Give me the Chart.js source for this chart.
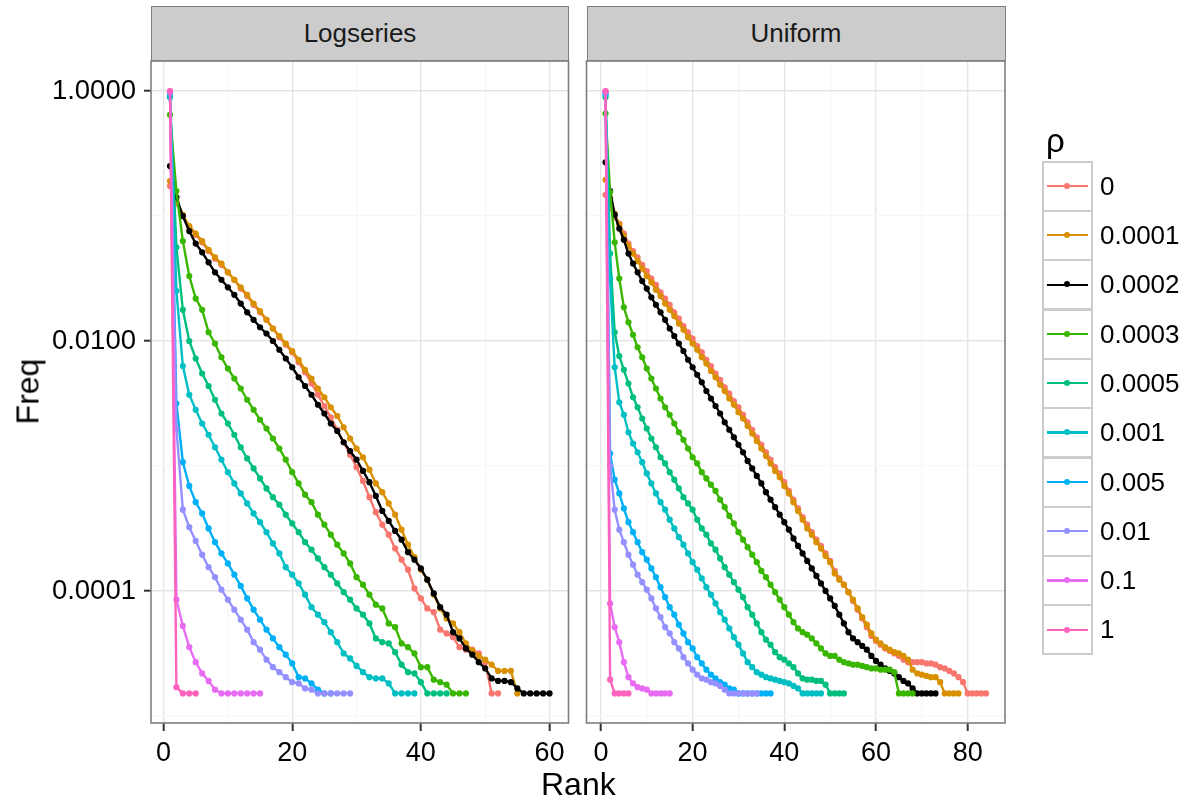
<!DOCTYPE html>
<html>
<head>
<meta charset="utf-8">
<script src="https://cdn.jsdelivr.net/npm/chart.js@4.4.1/dist/chart.umd.min.js"></script>
<style>
    body { margin: 0; background: #fff; font-family: "Liberation Sans", Arial, Helvetica, sans-serif; }
    #wrap { position: relative; width: 1189px; height: 805px; overflow: hidden; }
    #wrap canvas { position: absolute; left: 0; top: 0; }
    .strip { position: absolute; top: 6px; height: 55px; box-sizing: border-box; background: #ccc;
             border: 1.6px solid #7f7f7f; font-size: 26px; line-height: 52px; text-align: center; color: #1a1a1a; }
    .axis-title { position: absolute; font-size: 32px; color: #000; white-space: nowrap; }
    #legend { position: absolute; left: 1042px; top: 138px; }
    .key { position: absolute; left: 0; width: 51px; height: 51px; box-sizing: border-box; border: 2.4px solid #ccc; background: #fff; }
    .key .ln { position: absolute; left: 3px; right: 3px; top: 22.3px; height: 2.2px; }
    .key .pt { position: absolute; left: 20.2px; top: 20.2px; width: 6px; height: 6px; border-radius: 50%; }
    .key-label { position: absolute; left: 58px; font-size: 26px; color: #000; white-space: nowrap; }
    .legend-title { position: absolute; left: 4px; top: -16px; font-size: 33px; z-index: 2; }
</style>
</head>
<body>
<div id="wrap">
    <canvas id="chart-logseries" width="1189" height="805"></canvas>
    <canvas id="chart-uniform" width="1189" height="805"></canvas>
    <div class="strip" id="strip-0" style="left:151px;width:418px;"></div>
    <div class="strip" id="strip-1" style="left:586.5px;width:419px;"></div>
    <div class="axis-title" style="left:541px;top:766px;">Rank</div>
    <div class="axis-title" style="left:-6px;top:373px;transform:rotate(-90deg);transform-origin:center;width:68px;text-align:center;">Freq</div>
    <div id="legend"></div>
</div>
<script>
// facet titles and legend entries
const panelTitles = ['Logseries', 'Uniform'];
const legendTitle = 'ρ';
const rhoLabels = ['0', '0.0001', '0.0002', '0.0003', '0.0005', '0.001', '0.005', '0.01', '0.1', '1'];
const rhoColors = ['#F8766D', '#D89000', '#000000', '#39B600', '#00BF7D', '#00BFC4', '#00B0F6', '#9590FF', '#E76BF3', '#FF62BC'];

// tick labels
const yTickValues = [1, 0.01, 0.0001];
const yTickLabels = ['1.0000', '0.0100', '0.0001'];
const xTicksLogseries = [0, 20, 40, 60];
const xTicksUniform = [0, 20, 40, 60, 80];

// log10(Freq) by rank (rank 1, 2, 3, ...) -- Logseries panel
const lsRho0 = [-0.76, -0.90, -1.00, -1.09, -1.15, -1.21, -1.28, -1.34, -1.39, -1.45, -1.51, -1.58, -1.64, -1.71, -1.77, -1.83, -1.90, -1.97, -2.03, -2.09,
    -2.17, -2.25, -2.34, -2.43, -2.52, -2.61, -2.71, -2.81, -2.91, -3.01, -3.12, -3.25, -3.37, -3.47, -3.55, -3.66, -3.75, -3.83, -3.98, -4.06,
    -4.14, -4.17, -4.31, -4.34, -4.37, -4.45, -4.47, -4.47, -4.50, -4.57, -4.82, -4.82];
const lsRho00001 = [-0.72, -0.88, -0.99, -1.08, -1.14, -1.20, -1.27, -1.33, -1.38, -1.45, -1.51, -1.57, -1.63, -1.70, -1.76, -1.83, -1.90, -1.96, -2.02, -2.08,
    -2.15, -2.23, -2.30, -2.38, -2.45, -2.53, -2.60, -2.69, -2.78, -2.86, -2.93, -3.03, -3.14, -3.21, -3.30, -3.39, -3.51, -3.63, -3.73, -3.83,
    -3.91, -4.03, -4.14, -4.22, -4.26, -4.33, -4.42, -4.48, -4.52, -4.55, -4.59, -4.64, -4.64, -4.64, -4.82];
const lsRho00002 = [-0.60, -0.85, -1.00, -1.12, -1.22, -1.29, -1.37, -1.45, -1.51, -1.57, -1.63, -1.70, -1.77, -1.83, -1.89, -1.94, -2.00, -2.07, -2.14, -2.21,
    -2.29, -2.36, -2.43, -2.51, -2.58, -2.66, -2.72, -2.81, -2.88, -2.95, -3.04, -3.13, -3.24, -3.36, -3.44, -3.52, -3.59, -3.69, -3.75, -3.82,
    -3.91, -4.02, -4.13, -4.19, -4.33, -4.38, -4.46, -4.51, -4.57, -4.62, -4.70, -4.72, -4.72, -4.73, -4.78, -4.82, -4.82, -4.82, -4.82, -4.82];
const lsRho00003 = [-0.19, -0.80, -1.20, -1.48, -1.66, -1.75, -1.93, -2.02, -2.13, -2.22, -2.30, -2.38, -2.47, -2.55, -2.63, -2.70, -2.78, -2.86, -2.95, -3.05,
    -3.14, -3.23, -3.29, -3.39, -3.47, -3.55, -3.63, -3.70, -3.78, -3.89, -3.95, -4.03, -4.11, -4.14, -4.26, -4.29, -4.42, -4.45, -4.50, -4.61,
    -4.61, -4.71, -4.73, -4.75, -4.82, -4.82, -4.82];
const lsRho00005 = [-0.05, -1.25, -1.75, -2.00, -2.14, -2.26, -2.36, -2.47, -2.58, -2.66, -2.75, -2.85, -2.94, -3.02, -3.10, -3.18, -3.25, -3.31, -3.39, -3.46,
    -3.53, -3.61, -3.67, -3.74, -3.81, -3.87, -3.94, -4.01, -4.07, -4.14, -4.19, -4.26, -4.38, -4.41, -4.42, -4.49, -4.59, -4.65, -4.66, -4.73,
    -4.82, -4.82, -4.82, -4.82];
const lsRho0001 = [-0.045, -1.60, -2.20, -2.43, -2.55, -2.66, -2.75, -2.85, -2.95, -3.05, -3.14, -3.22, -3.30, -3.38, -3.45, -3.53, -3.62, -3.70, -3.81, -3.87,
    -3.94, -4.03, -4.13, -4.19, -4.25, -4.33, -4.41, -4.50, -4.54, -4.60, -4.65, -4.69, -4.70, -4.70, -4.74, -4.82, -4.82, -4.82, -4.82];
const lsRho0005 = [-0.02, -2.50, -2.97, -3.16, -3.29, -3.38, -3.50, -3.61, -3.70, -3.78, -3.87, -3.96, -4.06, -4.15, -4.23, -4.31, -4.38, -4.45, -4.51, -4.58,
    -4.69, -4.70, -4.74, -4.79, -4.82, -4.82];
const lsRho001 = [-0.01, -2.70, -3.35, -3.49, -3.60, -3.71, -3.81, -3.89, -3.99, -4.07, -4.15, -4.23, -4.31, -4.41, -4.47, -4.55, -4.61, -4.65, -4.69, -4.73,
    -4.74, -4.78, -4.79, -4.82, -4.82, -4.82, -4.82, -4.82, -4.82];
const lsRho01 = [-0.003, -4.07, -4.28, -4.45, -4.57, -4.66, -4.72, -4.79, -4.82, -4.82, -4.82, -4.82, -4.82, -4.82, -4.82];
const lsRho1 = [0, -4.77, -4.82, -4.82, -4.82];

// log10(Freq) by rank -- Uniform panel
const unRho0 = [-0.83, -0.93, -1.01, -1.06, -1.14, -1.22, -1.28, -1.33, -1.39, -1.44, -1.50, -1.55, -1.61, -1.66, -1.71, -1.77, -1.82, -1.88, -1.93, -1.98,
    -2.04, -2.09, -2.15, -2.20, -2.26, -2.31, -2.37, -2.42, -2.48, -2.53, -2.59, -2.65, -2.71, -2.77, -2.83, -2.89, -2.95, -3.01, -3.06, -3.13,
    -3.20, -3.27, -3.34, -3.41, -3.47, -3.53, -3.59, -3.64, -3.70, -3.76, -3.84, -3.90, -3.95, -4.01, -4.08, -4.15, -4.22, -4.29, -4.36, -4.40,
    -4.43, -4.46, -4.48, -4.50, -4.52, -4.55, -4.57, -4.57, -4.57, -4.57, -4.58, -4.58, -4.59, -4.61, -4.62, -4.64, -4.66, -4.69, -4.73, -4.82,
    -4.82, -4.82, -4.82, -4.82];
const unRho00001 = [-0.71, -0.86, -0.98, -1.07, -1.16, -1.24, -1.30, -1.36, -1.42, -1.48, -1.53, -1.59, -1.64, -1.70, -1.75, -1.80, -1.86, -1.91, -1.97, -2.02,
    -2.07, -2.13, -2.18, -2.24, -2.29, -2.35, -2.40, -2.46, -2.51, -2.57, -2.62, -2.68, -2.74, -2.80, -2.86, -2.92, -2.98, -3.04, -3.09, -3.16,
    -3.22, -3.29, -3.36, -3.43, -3.50, -3.55, -3.61, -3.66, -3.72, -3.77, -3.86, -3.91, -3.95, -4.01, -4.07, -4.14, -4.21, -4.27, -4.34, -4.39,
    -4.42, -4.45, -4.47, -4.49, -4.50, -4.52, -4.55, -4.63, -4.66, -4.67, -4.68, -4.69, -4.69, -4.73, -4.82, -4.82, -4.82, -4.82];
const unRho00002 = [-0.57, -0.80, -0.99, -1.10, -1.19, -1.30, -1.38, -1.45, -1.52, -1.58, -1.65, -1.71, -1.77, -1.83, -1.90, -1.96, -2.02, -2.08, -2.15, -2.21,
    -2.27, -2.33, -2.40, -2.46, -2.52, -2.58, -2.65, -2.71, -2.77, -2.83, -2.89, -2.96, -3.02, -3.08, -3.14, -3.21, -3.27, -3.33, -3.39, -3.45,
    -3.51, -3.58, -3.64, -3.70, -3.76, -3.82, -3.88, -3.94, -4.00, -4.06, -4.12, -4.19, -4.26, -4.33, -4.38, -4.41, -4.44, -4.47, -4.52, -4.56,
    -4.59, -4.62, -4.64, -4.66, -4.69, -4.72, -4.74, -4.78, -4.82, -4.82, -4.82, -4.82, -4.82];
const unRho00003 = [-0.18, -0.81, -1.21, -1.50, -1.73, -1.85, -1.95, -2.05, -2.13, -2.22, -2.30, -2.38, -2.46, -2.53, -2.59, -2.66, -2.73, -2.79, -2.86, -2.93,
    -2.98, -3.05, -3.10, -3.15, -3.20, -3.27, -3.33, -3.40, -3.46, -3.53, -3.59, -3.65, -3.71, -3.77, -3.84, -3.89, -3.95, -4.01, -4.07, -4.13,
    -4.19, -4.25, -4.30, -4.33, -4.35, -4.38, -4.42, -4.46, -4.50, -4.52, -4.52, -4.55, -4.57, -4.58, -4.59, -4.59, -4.60, -4.61, -4.62, -4.62,
    -4.63, -4.63, -4.63, -4.65, -4.82, -4.82, -4.82, -4.82];
const unRho00005 = [-0.05, -1.30, -1.93, -2.12, -2.23, -2.34, -2.45, -2.53, -2.62, -2.70, -2.78, -2.85, -2.93, -2.98, -3.05, -3.11, -3.18, -3.25, -3.30, -3.35,
    -3.43, -3.50, -3.55, -3.62, -3.67, -3.74, -3.81, -3.87, -3.93, -3.99, -4.05, -4.13, -4.19, -4.26, -4.33, -4.39, -4.43, -4.49, -4.53, -4.55,
    -4.58, -4.61, -4.66, -4.70, -4.71, -4.71, -4.72, -4.72, -4.75, -4.82, -4.82, -4.82, -4.82];
const unRho0001 = [-0.03, -1.50, -2.21, -2.49, -2.59, -2.73, -2.82, -2.89, -2.97, -3.06, -3.14, -3.22, -3.29, -3.35, -3.43, -3.50, -3.57, -3.63, -3.70, -3.77,
    -3.83, -3.90, -3.97, -4.03, -4.10, -4.17, -4.23, -4.30, -4.37, -4.43, -4.50, -4.57, -4.61, -4.65, -4.67, -4.69, -4.70, -4.71, -4.72, -4.73,
    -4.74, -4.76, -4.78, -4.82, -4.82, -4.82, -4.82, -4.82];
const unRho0005 = [-0.02, -2.90, -3.11, -3.22, -3.34, -3.45, -3.53, -3.61, -3.69, -3.75, -3.82, -3.89, -3.97, -4.05, -4.13, -4.19, -4.27, -4.34, -4.41, -4.46,
    -4.53, -4.58, -4.63, -4.67, -4.70, -4.73, -4.75, -4.78, -4.79, -4.82, -4.82, -4.82, -4.82, -4.82, -4.82, -4.82, -4.82];
const unRho001 = [-0.01, -3.00, -3.35, -3.51, -3.61, -3.71, -3.79, -3.87, -3.93, -3.99, -4.06, -4.14, -4.21, -4.29, -4.34, -4.41, -4.46, -4.53, -4.58, -4.63,
    -4.67, -4.70, -4.71, -4.73, -4.74, -4.76, -4.79, -4.82, -4.82, -4.82, -4.82, -4.82, -4.82, -4.82];
const unRho01 = [-0.003, -4.10, -4.29, -4.41, -4.57, -4.69, -4.74, -4.77, -4.78, -4.79, -4.82, -4.82, -4.82, -4.82, -4.82];
const unRho1 = [0, -4.71, -4.82, -4.82, -4.82, -4.82];

const logseriesSeries = [lsRho0, lsRho00001, lsRho00002, lsRho00003, lsRho00005, lsRho0001, lsRho0005, lsRho001, lsRho01, lsRho1];
const uniformSeries = [unRho0, unRho00001, unRho00002, unRho00003, unRho00005, unRho0001, unRho0005, unRho001, unRho01, unRho1];

Chart.defaults.font.family = '"Liberation Sans", Arial, Helvetica, sans-serif';
Chart.defaults.color = '#000';

// grey box round each panel, like ggplot's panel border
const panelBorder = {
    id: 'panelBorder',
    afterDraw(chart) {
        const a = chart.chartArea;
        const ctx = chart.ctx;
        ctx.save();
        ctx.strokeStyle = '#7f7f7f';
        ctx.lineWidth = 1.6;
        ctx.strokeRect(a.left, a.top, a.right - a.left, a.bottom - a.top);
        ctx.restore();
    }
};

function isMajorY(v) {
    return Math.round(Math.log10(v)) % 2 === 0;
}

function buildDatasets(series) {
    return series.map((vals, i) => ({
        label: rhoLabels[i],
        data: vals.map((v, k) => ({ x: k + 1, y: Math.pow(10, v) })),
        borderColor: rhoColors[i],
        backgroundColor: rhoColors[i],
        pointBackgroundColor: rhoColors[i],
        borderWidth: 2.4,
        pointRadius: 3.1,
        pointBorderWidth: 0,
        pointHoverRadius: 0,
        tension: 0,
        order: 10 - i
    }));
}

function makePanel(canvasId, series, opts) {
    const xMajors = opts.xTicks;
    new Chart(document.getElementById(canvasId), {
        type: 'line',
        data: { datasets: buildDatasets(series) },
        options: {
            responsive: false,
            animation: false,
            devicePixelRatio: 1,
            events: [],
            layout: {
                autoPadding: false,
                padding: { left: 0, top: 61, right: opts.padRight, bottom: 0 }
            },
            plugins: { legend: { display: false }, tooltip: { enabled: false } },
            scales: {
                x: {
                    type: 'linear',
                    min: opts.xMin,
                    max: opts.xMax,
                    afterFit: s => { s.height = 82; },
                    afterBuildTicks: s => {
                        const t = [];
                        for (let v = 0; v <= opts.xMax; v += 10) t.push({ value: v });
                        s.ticks = t;
                    },
                    ticks: {
                        autoSkip: false,
                        maxRotation: 0,
                        padding: 6,
                        font: { size: 27 },
                        color: '#000',
                        callback: v => xMajors.includes(v) ? String(v) : ''
                    },
                    grid: {
                        color: c => xMajors.includes(c.tick.value) ? '#e5e5e5' : '#f6f6f6',
                        lineWidth: c => xMajors.includes(c.tick.value) ? 1.4 : 1.2,
                        tickColor: c => xMajors.includes(c.tick.value) ? '#333' : 'rgba(0,0,0,0)',
                        tickLength: 8,
                        tickWidth: 2
                    },
                    border: { display: false }
                },
                y: {
                    type: 'logarithmic',
                    min: Math.pow(10, -5.057),
                    max: Math.pow(10, 0.241),
                    afterFit: s => { s.width = opts.left; },
                    afterBuildTicks: s => {
                        s.ticks = [1e-5, 1e-4, 1e-3, 1e-2, 1e-1, 1].map(v => ({ value: v }));
                    },
                    ticks: {
                        display: opts.showY,
                        autoSkip: false,
                        padding: 8,
                        font: { size: 27.5 },
                        color: '#000',
                        callback: v => {
                            const i = yTickValues.indexOf(v);
                            return i >= 0 ? yTickLabels[i] : '';
                        }
                    },
                    grid: {
                        drawTicks: opts.showY,
                        color: c => isMajorY(c.tick.value) ? '#e5e5e5' : '#f6f6f6',
                        lineWidth: c => isMajorY(c.tick.value) ? 1.4 : 1.2,
                        tickColor: c => isMajorY(c.tick.value) ? '#333' : 'rgba(0,0,0,0)',
                        tickLength: 7,
                        tickWidth: 2
                    },
                    border: { display: false }
                }
            }
        },
        plugins: [panelBorder]
    });
}

makePanel('chart-logseries', logseriesSeries, {
    left: 151, padRight: 1189 - 568.5, xMin: -1.95, xMax: 62.95, xTicks: xTicksLogseries, showY: true
});
makePanel('chart-uniform', uniformSeries, {
    left: 586.5, padRight: 1189 - 1005, xMin: -3.15, xMax: 88.15, xTicks: xTicksUniform, showY: false
});

// facet strips
panelTitles.forEach((t, i) => { document.getElementById('strip-' + i).textContent = t; });

// legend (ggplot style keys)
const legend = document.getElementById('legend');
rhoLabels.forEach((lab, i) => {
    const top = 22.7 + i * 49.3;
    const key = document.createElement('div');
    key.className = 'key';
    key.style.top = top + 'px';
    key.innerHTML = '<div class="ln" style="background:' + rhoColors[i] + '"></div>' +
        '<div class="pt" style="background:' + rhoColors[i] + '"></div>';
    legend.appendChild(key);
    const l = document.createElement('div');
    l.className = 'key-label';
    l.style.top = (top + 10) + 'px';
    l.textContent = lab;
    legend.appendChild(l);
});
const title = document.createElement('div');
title.className = 'legend-title';
title.textContent = legendTitle;
legend.appendChild(title);
</script>
</body>
</html>
